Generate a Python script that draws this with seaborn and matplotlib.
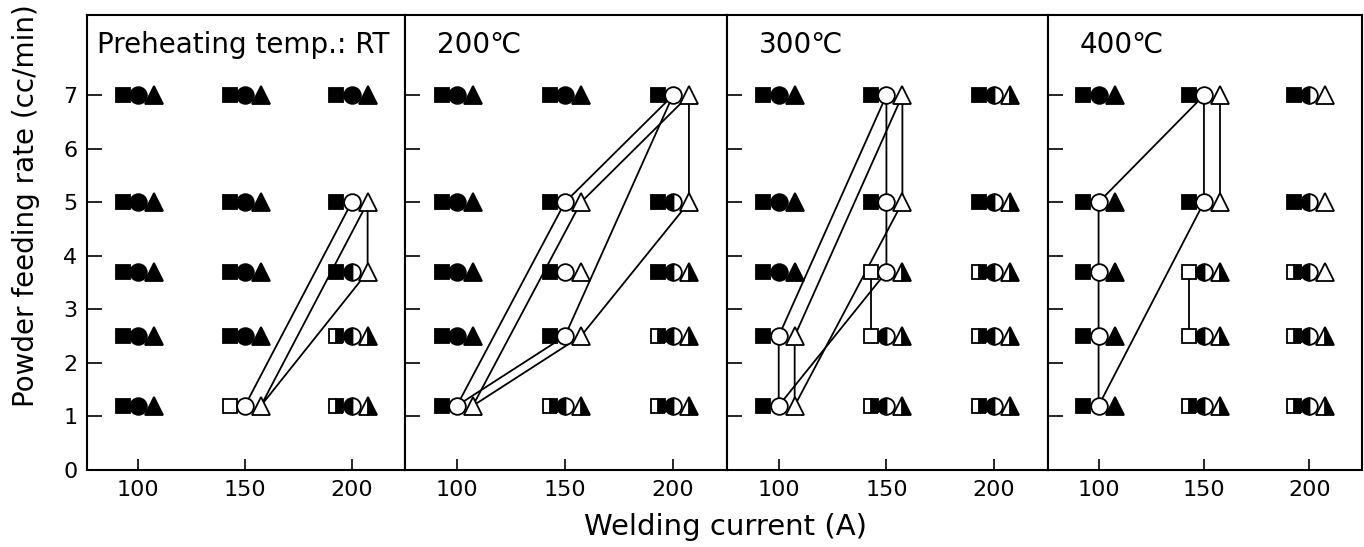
import matplotlib
matplotlib.use("Agg")
import matplotlib.pyplot as plt
import matplotlib.transforms as mtransforms
import pandas as pd
import seaborn as sns

# ---------------- data ----------------
currents = [100, 150, 200]
rates = [7.0, 5.0, 3.7, 2.5, 1.2]
x_ticks = [100, 150, 200]
y_ticks = [0, 1, 2, 3, 4, 5, 6, 7]
panel_titles = ["Preheating temp.: RT", "200℃", "300℃", "400℃"]

# state codes for (square, circle, triangle): F filled, O open, H half
states_rt = [["FFF", "FFF", "FFF"],
             ["FFF", "FFF", "FOO"],
             ["FFF", "FFF", "FHO"],
             ["FFF", "FFF", "HHH"],
             ["FFF", "OOO", "HHH"]]
states_200 = [["FFF", "FFF", "FOO"],
              ["FFF", "FOO", "FHO"],
              ["FFF", "FOO", "FHH"],
              ["FFF", "FOO", "HHH"],
              ["FOO", "HHH", "HHH"]]
states_300 = [["FFF", "FOO", "FHH"],
              ["FFF", "FOO", "FHH"],
              ["FFF", "OOH", "HHH"],
              ["FOO", "OHH", "HHH"],
              ["FOO", "HHH", "HHH"]]
states_400 = [["FFF", "FOO", "FHO"],
              ["FOF", "FOO", "FHO"],
              ["FOF", "OHH", "HHO"],
              ["FOF", "OHH", "HHH"],
              ["FOF", "HHH", "HHH"]]
panel_states = [states_rt, states_200, states_300, states_400]

# boundary polylines per marker type (current, rate)
lines_rt = {"c": [[(150, 1.2), (200, 5.0)]],
            "t": [[(150, 1.2), (200, 5.0), (200, 3.7), (150, 1.2)]]}
lines_200 = {"c": [[(100, 1.2), (150, 5.0), (200, 7.0), (150, 2.5), (100, 1.2)]],
             "t": [[(100, 1.2), (150, 5.0), (200, 7.0), (200, 5.0), (150, 2.5), (100, 1.2)]]}
lines_300 = {"c": [[(100, 1.2), (100, 2.5), (150, 7.0), (150, 3.7), (100, 1.2)]],
             "t": [[(100, 1.2), (100, 2.5), (150, 7.0), (150, 5.0), (100, 1.2)]],
             "s": [[(150, 3.7), (150, 2.5)]]}
lines_400 = {"c": [[(100, 1.2), (100, 5.0), (150, 7.0), (150, 5.0), (100, 1.2)]],
             "t": [[(150, 5.0), (150, 7.0)]],
             "s": [[(150, 3.7), (150, 2.5)]]}
panel_lines = [lines_rt, lines_200, lines_300, lines_400]

# ---------------- style ----------------
sns.set_theme(style="ticks")
plt.rcParams["font.family"] = ["DejaVu Sans", "Noto Sans CJK JP"]
plt.rcParams["axes.linewidth"] = 1.5

W, H = 1364, 547
fig = plt.figure(figsize=(W / 100, H / 100), dpi=100)

left_px = [87, 405, 727, 1048]
right_px = [405, 727, 1048, 1362]
top_px, bot_px = 15, 470

shape_marker = {"s": "s", "c": "o", "t": "^"}
shape_size = {"s": 10.5, "c": 12.0, "t": 12.5}
shape_dx = {"s": -11.0, "c": 0.0, "t": 11.5}  # points
shape_half = {"s": "right", "c": "left", "t": "right"}
shapes = ["s", "c", "t"]

for p in range(4):
    ax = fig.add_axes([left_px[p] / W, 1 - bot_px / H,
                       (right_px[p] - left_px[p]) / W, (bot_px - top_px) / H])
    ax.set_xlim(76, 225)
    ax.set_ylim(0, 8.5)
    for sp in ax.spines.values():
        sp.set_linewidth(1.5)
        sp.set_color("black")
    offs = {s: ax.transData + mtransforms.ScaledTranslation(shape_dx[s] / 72, 0,
                                                            fig.dpi_scale_trans)
            for s in shapes}

    # boundary lines
    for s, polys in panel_lines[p].items():
        rows = []
        for k, poly in enumerate(polys):
            for (xc, yr) in poly:
                rows.append({"current": xc, "rate": yr, "seg": k})
        df = pd.DataFrame(rows)
        sns.lineplot(data=df, x="current", y="rate", units="seg", estimator=None,
                     sort=False, color="black", lw=1.3, ax=ax,
                     transform=offs[s], zorder=2, legend=False)

    # markers
    st = panel_states[p]
    for i, r in enumerate(rates):
        for j, c in enumerate(currents):
            code = st[i][j]
            for k, s in enumerate(shapes):
                f = code[k]
                kw = dict(marker=shape_marker[s], markersize=shape_size[s],
                          markeredgecolor="black", markeredgewidth=1.3,
                          linestyle="none", transform=offs[s], zorder=3,
                          clip_on=False)
                if f == "F":
                    kw.update(markerfacecolor="black", fillstyle="full")
                elif f == "O":
                    kw.update(markerfacecolor="white", fillstyle="full")
                else:
                    kw.update(markerfacecolor="black", markerfacecoloralt="white",
                              fillstyle=shape_half[s])
                ax.plot([c], [r], **kw)

    ax.set_xlabel("")
    ax.set_ylabel("")
    ax.set_xticks(x_ticks)
    ax.set_yticks(y_ticks)
    ax.tick_params(axis="x", direction="in", length=8, width=1.2, labelsize=16,
                   pad=7, colors="black")
    ax.tick_params(axis="y", direction="in", length=11, width=1.2, labelsize=16,
                   pad=7, colors="black")
    if p > 0:
        ax.set_yticklabels([])
    tx = 0.031 if p == 0 else 0.10
    ax.text(tx, (bot_px - 45) / (bot_px - top_px), panel_titles[p],
            transform=ax.transAxes, fontsize=20, ha="left", va="center",
            color="black")

fig.text(725 / W, 1 - 527 / H, "Welding current (A)", fontsize=21,
         ha="center", va="center", color="black")
fig.text(26 / W, 1 - 206 / H, "Powder feeding rate (cc/min)", fontsize=20,
         rotation=90, ha="center", va="center", color="black")

fig.savefig("out.png", dpi=100, facecolor="white")
